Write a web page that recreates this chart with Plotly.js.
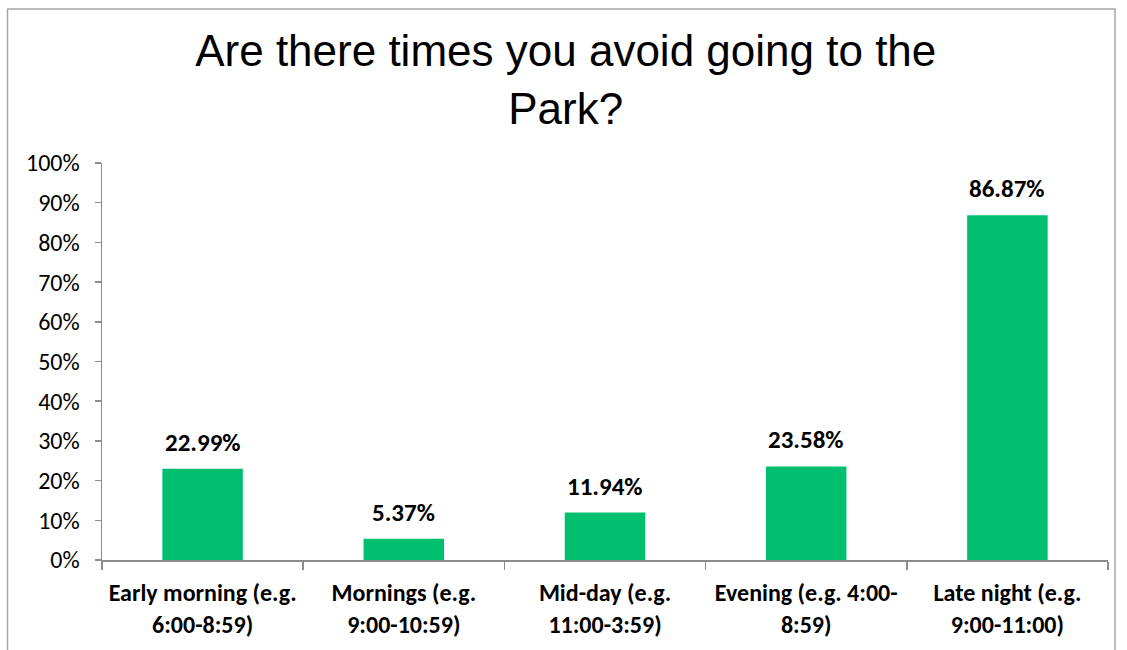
<!DOCTYPE html>
<html><head><meta charset="utf-8">
<script src="https://cdn.plot.ly/plotly-3.0.1.min.js"></script>
<style>html,body{margin:0;padding:0;background:#fff}#chart{width:1127px;height:650px}</style>
</head><body><div id="chart"></div>
<script>
const categories = ["Early morning (e.g.<br>6:00-8:59)", "Mornings (e.g.<br>9:00-10:59)", "Mid-day (e.g.<br>11:00-3:59)", "Evening (e.g. 4:00-<br>8:59)", "Late night (e.g.<br>9:00-11:00)"];
const values = [0.2299, 0.0537, 0.1194, 0.2358, 0.8687];
const valueLabels = ["22.99%", "5.37%", "11.94%", "23.58%", "86.87%"];
const yTickVals = [0, 0.1, 0.2, 0.3, 0.4, 0.5, 0.6, 0.7, 0.8, 0.9, 1.0];
const yTickText = ["0%", "10%", "20%", "30%", "40%", "50%", "60%", "70%", "80%", "90%", "100%"];

const fontFam = "Carlito, Calibri, 'Open Sans', sans-serif";
const trace = {
  type: 'bar', x: categories, y: values,
  marker: {color: 'rgb(0,192,112)'},
  width: 0.4, hoverinfo: 'none'
};
const annotations = categories.map((c, i) => ({
  x: c, y: values[i], xref: 'x', yref: 'y', text: valueLabels[i],
  showarrow: false, yanchor: 'bottom', yshift: 9,
  font: {family: fontFam, size: 25, color: '#000', weight: 'bold'}
}));
const layout = {
  width: 1127, height: 650,
  margin: {l: 102, r: 19, t: 163, b: 90},
  paper_bgcolor: '#fff', plot_bgcolor: '#fff',
  showlegend: false,
  title: {text: 'Are there times you avoid going to the<br>Park?', x: 0.502, xanchor: 'center', y: 0.898, yanchor: 'top',
    font: {family: "'Liberation Sans', Arial, sans-serif", size: 44, color: '#000'}},
  xaxis: {type: 'category', showline: true, linecolor: '#8c8c8c', linewidth: 1.5,
    ticks: 'outside', tickson: 'boundaries', ticklen: 8, tickcolor: '#8c8c8c', tickwidth: 1.5,
    showgrid: false, zeroline: false, ticklabelstandoff: 11,
    tickfont: {family: fontFam, size: 24, color: '#000', weight: 'bold'}},
  yaxis: {range: [0, 1], tickvals: yTickVals, ticktext: yTickText, showline: true,
    linecolor: '#8c8c8c', linewidth: 1.5, ticks: 'outside', ticklen: 6, tickcolor: '#8c8c8c', tickwidth: 1.5,
    showgrid: false, zeroline: false, ticklabelstandoff: 10,
    tickfont: {family: fontFam, size: 24, color: '#000'}},
  annotations: annotations,
  shapes: [{type: 'rect', xref: 'paper', yref: 'paper',
    x0: (7.5 - 102) / 1006, x1: (1115 - 102) / 1006,
    y0: (560 - 700) / 397, y1: (560 - 9) / 397,
    line: {color: '#a6a6a6', width: 1.5}, fillcolor: 'rgba(0,0,0,0)', layer: 'below'}]
};
Plotly.newPlot('chart', [trace], layout, {displayModeBar: false, staticPlot: true});
</script></body></html>
